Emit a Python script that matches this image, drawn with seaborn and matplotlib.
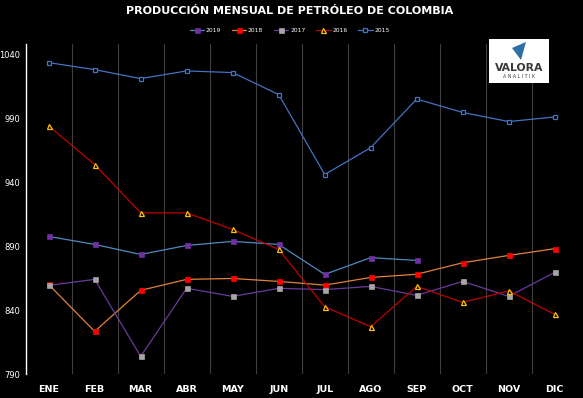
import numpy as np
import pandas as pd
import seaborn as sns
import matplotlib.pyplot as plt
from matplotlib.lines import Line2D
from matplotlib.patches import Rectangle, Polygon

# datos (miles de barriles por día)
meses = ['ENE', 'FEB', 'MAR', 'ABR', 'MAY', 'JUN', 'JUL', 'AGO', 'SEP', 'OCT', 'NOV', 'DIC']
prod_2019 = [897.6, 891.3, 883.5, 890.5, 893.7, 891.3, 867.9, 881.0, 878.8]
prod_2018 = [860.0, 823.3, 855.4, 864.0, 864.7, 862.4, 859.5, 865.5, 868.0, 877.0, 882.7, 888.0]
prod_2017 = [859.3, 864.0, 803.8, 857.0, 850.7, 857.0, 856.0, 858.5, 851.5, 862.4, 850.7, 869.5]
prod_2016 = [984.0, 953.8, 916.0, 916.0, 903.0, 887.4, 842.6, 827.0, 858.5, 846.0, 855.0, 836.6]
prod_2015 = [1033.5, 1028.0, 1021.0, 1027.0, 1025.7, 1008.5, 946.0, 967.0, 1005.0, 994.5, 987.4, 991.0]
yticks = [790, 840, 890, 940, 990, 1040]

series = [
    ('2019', prod_2019, dict(color='#4e8ac0', marker='s', mfc='#7030a0', mec='#7030a0', ms=3.6)),
    ('2018', prod_2018, dict(color='#e0813a', marker='s', mfc='#ff0000', mec='#ff0000', ms=3.6)),
    ('2017', prod_2017, dict(color='#6a3a9a', marker='s', mfc='#a6a6a6', mec='#a6a6a6', ms=3.6)),
    ('2016', prod_2016, dict(color='#c00000', marker='^', mfc='#000000', mec='#ffc000', ms=3.6, mew=0.9)),
    ('2015', prod_2015, dict(color='#4472c4', marker='s', mfc='#000000', mec='#4472c4', ms=3.2, mew=0.9)),
]

sns.set_theme(style='dark')
plt.rcParams['font.family'] = ['DejaVu Sans']

fig = plt.figure(figsize=(5.83, 3.98), dpi=100, facecolor='black')
ax = fig.add_axes([0.044, 0.0603, 0.947, 0.829])
ax.set_facecolor('black')

handles = []
for nombre, valores, st in series:
    df = pd.DataFrame({'x': np.arange(len(valores)), 'y': valores})
    sns.lineplot(data=df, x='x', y='y', ax=ax, color=st['color'], linewidth=0.9,
                 marker=st['marker'], markersize=st['ms'], markerfacecolor=st['mfc'],
                 markeredgecolor=st['mec'], markeredgewidth=st.get('mew', 0.5))
    handles.append(Line2D([0], [0], color=st['color'], linewidth=0.9, marker=st['marker'],
                          markersize=st['ms'], markerfacecolor=st['mfc'],
                          markeredgecolor=st['mec'], markeredgewidth=st.get('mew', 0.5),
                          label=nombre))

ax.set_xlim(-0.5, 11.5)
ax.set_ylim(790, 1048)
ax.set_xticks(range(12))
ax.set_xticklabels(meses, fontsize=6.8, fontweight='bold', color='white')
ax.set_yticks(yticks)
ax.set_yticklabels([str(v) for v in yticks], fontsize=6, color='white')
ax.tick_params(axis='y', length=0, pad=4)
ax.tick_params(axis='x', length=0, pad=8)
ax.set_xticks(np.arange(0.5, 11), minor=True)
ax.tick_params(axis='x', which='minor', length=0)
ax.grid(False)
ax.grid(True, which='minor', axis='x', color='#404040', linewidth=0.8)
ax.set_xlabel('')
ax.set_ylabel('')
for s in ['top', 'right', 'bottom']:
    ax.spines[s].set_visible(False)
ax.spines['left'].set_color('white')
ax.spines['left'].set_linewidth(1.0)

fig.text(0.497, 0.972, 'PRODUCCIÓN MENSUAL DE PETRÓLEO DE COLOMBIA', ha='center', va='center',
         fontsize=8, fontweight='bold', color='white')
fig.legend(handles=handles, loc='center', bbox_to_anchor=(0.497, 0.924), ncol=5,
           frameon=False, fontsize=4.3, labelcolor='white', handlelength=2.4,
           columnspacing=1.8, handletextpad=0.3)

# logo de Valora Analitik
fig.patches.append(Rectangle((489 / 583, 1 - 83 / 398), 60 / 583, 44 / 398,
                             transform=fig.transFigure, facecolor='white', edgecolor='none'))
fig.patches.append(Polygon([(512 / 583, 1 - 48 / 398), (526 / 583, 1 - 42 / 398),
                            (521 / 583, 1 - 60 / 398)], closed=True,
                           transform=fig.transFigure, facecolor='#2f6fa8', edgecolor='none'))
fig.text(519 / 583, 1 - 68 / 398, 'VALORA', ha='center', va='center', fontsize=7.8,
         fontweight='bold', color='#3a3a3a')
fig.text(519 / 583, 1 - 77 / 398, 'A N A L I T I K', ha='center', va='center', fontsize=3.4,
         color='#3a3a3a')

fig.savefig('out.png', dpi=100, facecolor='black')
